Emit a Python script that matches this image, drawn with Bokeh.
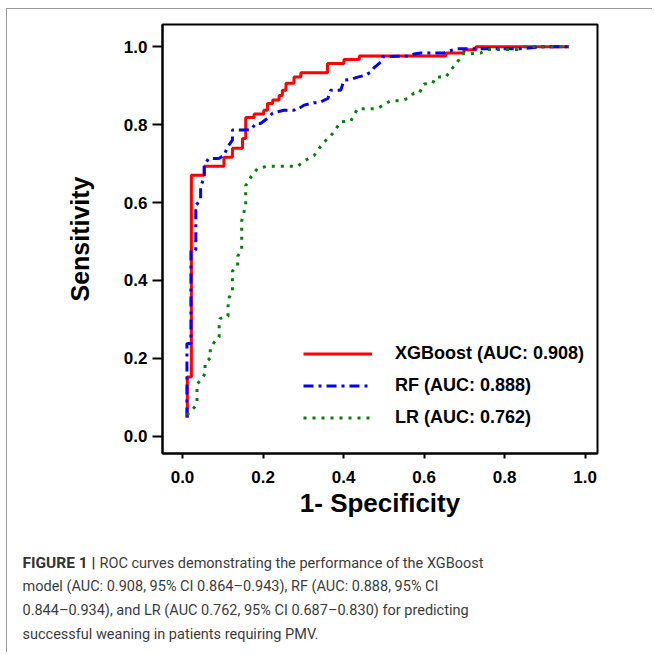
from bokeh.plotting import figure
from bokeh.layouts import column
from bokeh.models import Range1d, Legend, LegendItem, FixedTicker
from bokeh.core.properties import value
from bokeh.embed import file_html
from bokeh.resources import INLINE

# ---- data ----
xgb_fpr = [0.012, 0.012, 0.022, 0.022, 0.054, 0.054, 0.103, 0.103, 0.124, 0.124, 0.149, 0.149,
           0.157, 0.157, 0.178, 0.178, 0.202, 0.202, 0.211, 0.211, 0.224, 0.224, 0.240, 0.240,
           0.248, 0.248, 0.257, 0.257, 0.277, 0.277, 0.294, 0.294, 0.360, 0.360, 0.401, 0.401,
           0.439, 0.439, 0.654, 0.654, 0.699, 0.699, 0.729, 0.729, 0.960]
xgb_tpr = [0.048, 0.152, 0.152, 0.670, 0.670, 0.693, 0.693, 0.716, 0.716, 0.739, 0.739, 0.764,
           0.764, 0.818, 0.818, 0.827, 0.827, 0.837, 0.837, 0.854, 0.854, 0.863, 0.863, 0.875,
           0.875, 0.888, 0.888, 0.906, 0.906, 0.922, 0.922, 0.933, 0.933, 0.957, 0.957, 0.967,
           0.967, 0.976, 0.976, 0.984, 0.984, 0.992, 0.992, 1.000, 1.000]

rf_fpr = [0.011, 0.011, 0.021, 0.021, 0.033, 0.033, 0.045, 0.045, 0.054, 0.054, 0.065, 0.090,
          0.103, 0.112, 0.124, 0.124, 0.149, 0.170, 0.182, 0.194, 0.211, 0.224, 0.252, 0.277,
          0.281, 0.289, 0.302, 0.326, 0.339, 0.361, 0.368, 0.393, 0.401, 0.418, 0.435, 0.455,
          0.468, 0.475, 0.493, 0.497, 0.559, 0.575, 0.592, 0.650, 0.662, 0.683, 0.840, 0.897,
          0.960]
rf_tpr = [0.048, 0.238, 0.238, 0.478, 0.478, 0.593, 0.606, 0.640, 0.666, 0.696, 0.713, 0.713,
          0.721, 0.743, 0.760, 0.786, 0.786, 0.787, 0.803, 0.803, 0.816, 0.830, 0.837, 0.837,
          0.841, 0.841, 0.850, 0.856, 0.856, 0.867, 0.888, 0.888, 0.914, 0.916, 0.922, 0.927,
          0.935, 0.945, 0.961, 0.974, 0.976, 0.981, 0.984, 0.984, 0.989, 0.995, 0.995, 1.000,
          1.000]

lr_fpr = [0.011, 0.025, 0.036, 0.036, 0.047, 0.056, 0.056, 0.069, 0.069, 0.078, 0.091, 0.091,
          0.093, 0.113, 0.113, 0.116, 0.124, 0.124, 0.137, 0.137, 0.147, 0.147, 0.152, 0.157,
          0.157, 0.161, 0.170, 0.186, 0.211, 0.286, 0.298, 0.327, 0.348, 0.373, 0.393, 0.418,
          0.426, 0.435, 0.484, 0.501, 0.517, 0.542, 0.559, 0.575, 0.588, 0.600, 0.621, 0.629,
          0.654, 0.665, 0.676, 0.687, 0.695, 0.716, 0.741, 0.758, 0.832, 0.848, 0.960]
lr_tpr = [0.054, 0.069, 0.082, 0.134, 0.146, 0.161, 0.188, 0.201, 0.226, 0.240, 0.255, 0.281,
          0.302, 0.308, 0.332, 0.356, 0.372, 0.424, 0.436, 0.462, 0.478, 0.553, 0.573, 0.593,
          0.644, 0.649, 0.666, 0.687, 0.693, 0.693, 0.704, 0.721, 0.751, 0.777, 0.807, 0.809,
          0.824, 0.841, 0.841, 0.852, 0.861, 0.861, 0.867, 0.881, 0.881, 0.904, 0.906, 0.922,
          0.922, 0.938, 0.952, 0.967, 0.982, 0.982, 0.984, 0.993, 0.993, 1.000, 1.000]

x_ticks = [0.0, 0.2, 0.4, 0.6, 0.8, 1.0]
y_ticks = [0.0, 0.2, 0.4, 0.6, 0.8, 1.0]
tick_text = ["0.0", "0.2", "0.4", "0.6", "0.8", "1.0"]
legend_labels = ["XGBoost (AUC: 0.908)", "RF (AUC: 0.888)", "LR (AUC: 0.762)"]
x_title = "1- Specificity"
y_title = "Sensitivity"
caption_bold = ["FIGURE 1 |"]
caption_lines = [
    "ROC curves demonstrating the performance of the XGBoost",
    "model (AUC: 0.908, 95% CI 0.864\u20130.943), RF (AUC: 0.888, 95% CI",
    "0.844\u20130.934), and LR (AUC 0.762, 95% CI 0.687\u20130.830) for predicting",
    "successful weaning in patients requiring PMV.",
]

FONT = "Liberation Sans"
W = 645
HA = 515
HB = 128
ML, MT = 155, 15
FW, FH = 435, 429
MR = W - ML - FW
MB = HA - MT - FH

# ---------------- ROC plot ----------------
p = figure(width=W, height=HA, output_backend="svg", toolbar_location=None,
           x_range=Range1d(-0.0497, 1.0308), y_range=Range1d(-0.0444, 1.057),
           min_border_left=ML, min_border_right=MR, min_border_top=MT, min_border_bottom=MB)
p.frame_align = False
p.grid.visible = False
p.outline_line_color = "black"
p.outline_line_width = 2
p.background_fill_color = "white"
p.border_fill_color = "white"

for ax, ticks, tout, title, fs in ((p.xaxis[0], x_ticks, 5, x_title, "26px"),
                                   (p.yaxis[0], y_ticks, 10, y_title, "25px")):
    ax.ticker = FixedTicker(ticks=ticks)
    ax.major_label_overrides = dict(zip(ticks, tick_text))
    ax.minor_tick_line_color = None
    ax.major_tick_in = 0
    ax.major_tick_out = tout
    ax.major_tick_line_width = 2
    ax.major_tick_line_color = "black"
    ax.axis_line_width = 2
    ax.axis_line_color = "black"
    ax.major_label_text_font = FONT
    ax.major_label_text_font_style = "bold"
    ax.major_label_text_font_size = "17px"
    ax.major_label_text_color = "black"
    ax.axis_label = title
    ax.axis_label_text_font = FONT
    ax.axis_label_text_font_style = "bold"
    ax.axis_label_text_font_size = fs
    ax.axis_label_text_color = "black"
p.xaxis[0].major_label_standoff = 12
p.yaxis[0].major_label_standoff = 5
p.xaxis[0].axis_label_standoff = 2
p.yaxis[0].axis_label_standoff = 27

r_xgb = p.line(xgb_fpr, xgb_tpr, line_color="#FF0000", line_width=3)
r_rf = p.line(rf_fpr, rf_tpr, line_color="#0000FF", line_width=3, line_dash="10 5 3 5")
r_lr = p.line(lr_fpr, lr_tpr, line_color="#008000", line_width=3, line_dash="3 6")

legend = Legend(items=[LegendItem(label=legend_labels[0], renderers=[r_xgb]),
                       LegendItem(label=legend_labels[1], renderers=[r_rf]),
                       LegendItem(label=legend_labels[2], renderers=[r_lr])],
                location=(131, 15))
legend.background_fill_alpha = 0
legend.border_line_alpha = 0
legend.label_text_font = FONT
legend.label_text_font_style = "bold"
legend.label_text_font_size = "18px"
legend.label_text_color = "black"
legend.glyph_width = 69
legend.glyph_height = 21
legend.label_height = 21
legend.spacing = 11
legend.padding = 10
legend.label_standoff = 23
p.add_layout(legend)

# ---------------- caption ----------------
c = figure(width=W, height=HB, output_backend="svg", toolbar_location=None,
           x_range=Range1d(0, W), y_range=Range1d(HB, 0),
           x_axis_type=None, y_axis_type=None, min_border=0)
c.frame_align = False
c.grid.visible = False
c.outline_line_color = None
c.background_fill_color = "white"
c.border_fill_color = "white"

line_y0 = 38.5
line_step = 23.7
cap_left = 15
c.text(x=[cap_left], y=[line_y0], text=caption_bold, text_font=value("Roboto"),
       text_font_style="bold", text_font_size="15.5px", text_color="#333333",
       text_baseline="middle", text_align="left")
cx = [cap_left + 77] + [cap_left] * (len(caption_lines) - 1)
cy = [line_y0 + i * line_step for i in range(len(caption_lines))]
c.text(x=cx, y=cy, text=caption_lines, text_font=value("Roboto"),
       text_font_size="14.5px", text_color="#3c3c3c",
       text_baseline="middle", text_align="left")

layout = column(p, c, spacing=0, margin=(8, 0, 0, 6),
                styles={"border-top": "1px solid #9a9a9a", "border-left": "1px solid #9a9a9a"})

open("out.html", "w").write(file_html(layout, INLINE))
